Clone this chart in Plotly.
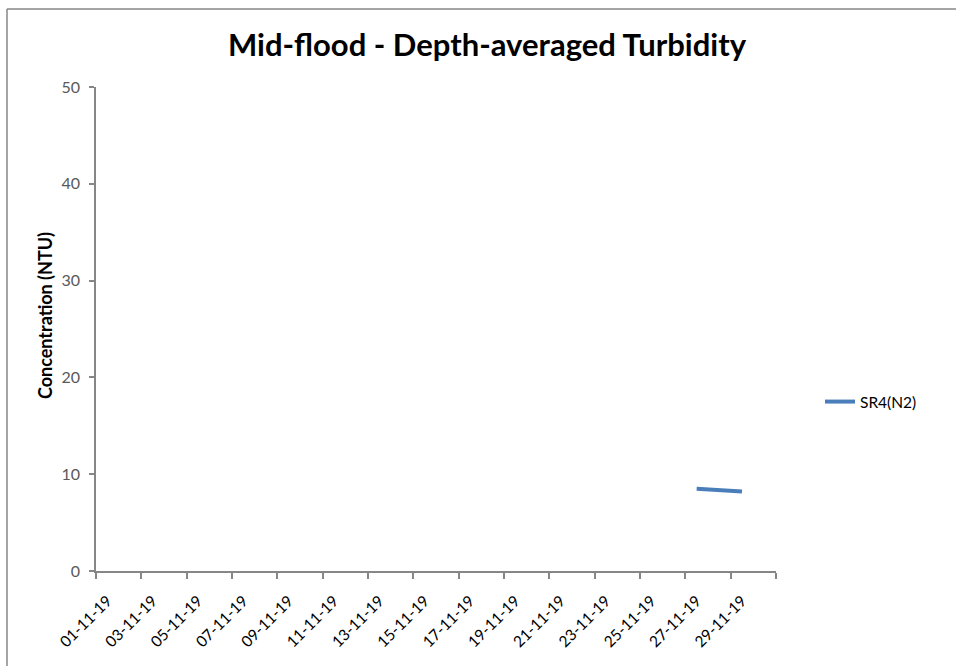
import plotly.graph_objects as go

# ---- data ----
dates = ["2019-11-27", "2019-11-29"]
sr4_n2 = [8.5, 8.2]
series_name = "SR4(N2)"

tick_dates = ["2019-11-%02d" % d for d in range(1, 30, 2)]
tick_labels = ["%02d-11-19" % d for d in range(1, 30, 2)]

title_text = "Mid-flood - Depth-averaged Turbidity"
y_title = "Concentration (NTU)"

W, H = 956, 666
L, R, T, B = 96, 180, 87, 95
pw = W - L - R
ph = H - T - B

def px_x(p):
    return (p - L) / pw

def px_y(p):
    return (H - B - p) / ph

fig = go.Figure()
fig.add_trace(go.Scatter(
    x=dates, y=sr4_n2, mode="lines", name=series_name,
    line=dict(color="#4A7EBB", width=4),
))

fig.update_layout(
    width=W, height=H,
    margin=dict(l=L, r=R, t=T, b=B, autoexpand=False),
    paper_bgcolor="white", plot_bgcolor="white",
    font=dict(family="Lato, 'Open Sans', sans-serif", color="#333333"),
    title=dict(text="<b>%s</b>" % title_text, x=487 / W, xanchor="center",
               y=1 - 45 / H, yanchor="middle", xref="container", yref="container",
               font=dict(size=31, color="#000000")),
    showlegend=True,
    legend=dict(x=px_x(820), y=px_y(402), xanchor="left", yanchor="middle",
                font=dict(size=15.5, color="#000000"), bgcolor="rgba(0,0,0,0)",
                itemwidth=30),
    xaxis=dict(
        type="date",
        range=["2019-10-31 12:00", "2019-11-30 12:00"],
        tickmode="array", tickvals=tick_dates, ticktext=tick_labels,
        tickangle=-45, ticks="", showgrid=False,
        showline=True, linecolor="#868686", linewidth=1.5,
        tickfont=dict(size=15.5, color="#000000"),
        ticklabelstandoff=13,
        minor=dict(ticks="outside", tick0="2019-10-31 12:00", dtick=2 * 86400000,
                   ticklen=6, tickcolor="#868686", tickwidth=1.5, showgrid=False),
        zeroline=False, fixedrange=True,
    ),
    yaxis=dict(
        range=[0, 50], dtick=10, tick0=0, showgrid=False, zeroline=False,
        showline=True, linecolor="#868686", linewidth=1.5,
        ticks="outside", ticklen=5, tickcolor="#868686", tickwidth=1.5,
        tickfont=dict(size=16, color="#595959"),
        ticklabelstandoff=6, fixedrange=True,
    ),
)

fig.add_annotation(
    text="<b>%s</b>" % y_title, textangle=-90,
    xref="paper", yref="paper", x=px_x(45), y=px_y(316),
    xanchor="center", yanchor="middle", showarrow=False,
    font=dict(size=18, color="#000000"),
)

# chart border (top and left edges visible)
fig.add_shape(type="line", xref="paper", yref="paper",
              x0=px_x(7), x1=px_x(7), y0=px_y(H), y1=px_y(9),
              line=dict(color="#878787", width=1.5))
fig.add_shape(type="line", xref="paper", yref="paper",
              x0=px_x(7), x1=px_x(W), y0=px_y(9), y1=px_y(9),
              line=dict(color="#878787", width=1.5))

fig.write_html(
    "out.html", config={"displayModeBar": False},
    post_script=("document.body.style.margin='0';"
                 "document.body.style.overflow='hidden';"
                 "document.documentElement.style.overflow='hidden';"),
)
